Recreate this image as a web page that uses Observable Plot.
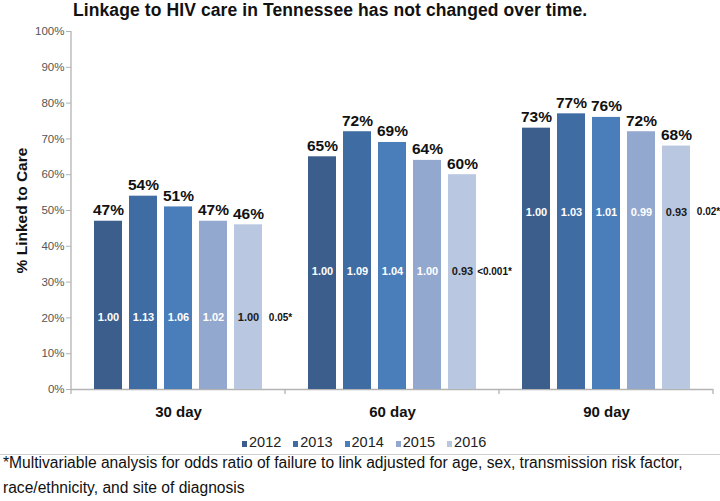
<!DOCTYPE html>
<html><head><meta charset="utf-8">
<script src="https://cdn.jsdelivr.net/npm/d3@7"></script>
<script src="https://cdn.jsdelivr.net/npm/@observablehq/plot@0.6"></script>
<style>
body{margin:0;background:#fff;font-family:"Liberation Sans",Arial,sans-serif;}
#wrap{position:relative;width:720px;height:501px;overflow:hidden;background:#fff;}
#chart{position:absolute;left:0;top:0;}
#title{position:absolute;left:73px;top:0;font-weight:bold;font-size:17.5px;line-height:20px;letter-spacing:0.1px;color:#111;white-space:nowrap;}
#legend{position:absolute;left:242px;top:433px;display:flex;font-size:14.5px;line-height:18px;color:#222;white-space:nowrap;}
#legend .item{display:flex;align-items:center;margin-right:12px;}
#legend .sw{width:5px;height:6px;margin-right:2px;margin-top:4px;}
#sep{position:absolute;left:0;top:454px;width:720px;height:0;border-top:1.5px solid #cfcfcf;}
#note{position:absolute;left:3px;top:450px;font-size:15.6px;line-height:25px;color:#111;white-space:nowrap;}
g[aria-label="y-axis label"] text{font-weight:bold;font-size:15.5px;fill:#111;}
</style>
</head><body>
<div id="wrap">
  <div id="chart"></div>
  <div id="title">Linkage to HIV care in Tennessee has not changed over time.</div>
  <div id="legend"></div>
  <div id="sep"></div>
  <div id="note">*Multivariable analysis for odds ratio of failure to link adjusted for age, sex, transmission risk factor,<br>race/ethnicity, and site of diagnosis</div>
</div>
<script>
const periods = ["30 day", "60 day", "90 day"];
const years = ["2012", "2013", "2014", "2015", "2016"];
const linked30 = [47, 54, 51, 47, 46];
const linked60 = [65, 72, 69, 64, 60];
const linked90 = [73, 77, 76, 72, 68];
const odds30 = ["1.00", "1.13", "1.06", "1.02", "1.00"];
const odds60 = ["1.00", "1.09", "1.04", "1.00", "0.93"];
const odds90 = ["1.00", "1.03", "1.01", "0.99", "0.93"];
const pValues = ["0.05*", "<0.001*", "0.02*"];
const oddsLevel = [20, 33, 49.5];
const yTicks = [0, 10, 20, 30, 40, 50, 60, 70, 80, 90, 100];
const colors = ["#3b5e8c", "#3f6ca3", "#4a7eba", "#93a8cf", "#b9c7e1"];

const linked = [linked30, linked60, linked90];
const odds = [odds30, odds60, odds90];
const rows = [];
periods.forEach((p, i) => years.forEach((yr, j) => rows.push({period: p, year: yr, linked: linked[i][j], odds: odds[i][j], level: oddsLevel[i]})));
const pRows = periods.map((p, i) => ({period: p, year: years[years.length - 1], p: pValues[i], level: oddsLevel[i]}));

const plot = Plot.plot({
  width: 720, height: 425,
  marginTop: 31, marginBottom: 36, marginLeft: 71, marginRight: 7,
  style: {fontFamily: "Liberation Sans, Arial, sans-serif", background: "transparent", overflow: "visible"},
  fx: {domain: periods, padding: 0, label: null},
  x: {domain: years, paddingInner: 0.19, paddingOuter: 0.6, axis: null},
  y: {domain: [0, 100], label: null},
  color: {domain: years, range: colors},
  marks: [
    Plot.ruleY([0], {stroke: "#b3b3b3", strokeWidth: 1.3}),
    Plot.barY(rows, {fx: "period", x: "year", y: "linked", fill: "year"}),
    Plot.text(rows, {fx: "period", x: "year", y: "linked", text: d => d.linked + "%", lineAnchor: "bottom", dy: -6, fontSize: 15.5, fontWeight: "bold", fill: "#111"}),
    Plot.text(rows.filter(d => d.year !== "2016"), {fx: "period", x: "year", y: "level", text: "odds", fill: "white", fontSize: 11, fontWeight: "bold"}),
    Plot.text(rows.filter(d => d.year === "2016"), {fx: "period", x: "year", y: "level", text: "odds", fill: "#1a1a1a", fontSize: 11, fontWeight: "bold"}),
    Plot.text(pRows, {fx: "period", x: "year", y: "level", text: "p", dx: 32, fontSize: 10, fontWeight: "bold", fill: "#111"}),
    Plot.axisY({ticks: yTicks, tickFormat: d => d + "%", tickSize: 5, tickPadding: 2, fontSize: 11.5, fill: "#555", stroke: "#b3b3b3", label: "% Linked to Care", labelArrow: "none", labelAnchor: "center", labelOffset: 56}),
    Plot.axisFx({anchor: "bottom", tickSize: 0, tickPadding: 17, fontSize: 15, fontWeight: "bold", fill: "#111", label: null})
  ]
});
document.getElementById("chart").appendChild(plot);

const svg = d3.select(plot);
// strip any label arrow
svg.selectAll('g[aria-label="y-axis label"] text').each(function() {
  this.textContent = this.textContent.replace(/\s*[↑→]\s*/g, "").trim();
});

// axis line and group-boundary ticks, positioned through the plot's scales
const ys = plot.scale("y");
const y0 = ys.apply(0), y100 = ys.apply(100);
let bounds;
try {
  const fxs = plot.scale("fx");
  bounds = fxs.domain.map(d => fxs.apply(d));
  bounds.push(bounds[bounds.length - 1] + fxs.bandwidth);
} catch (e) {
  const w = (720 - 71 - 7) / 3;
  bounds = [0, 1, 2, 3].map(i => 71 + i * w);
}
const g = svg.append("g").attr("stroke", "#b3b3b3").attr("stroke-width", 1.3);
g.append("line").attr("x1", bounds[0]).attr("x2", bounds[0]).attr("y1", y100).attr("y2", y0);
bounds.forEach(b => g.append("line").attr("x1", b).attr("x2", b).attr("y1", y0).attr("y2", y0 + 5));

// legend
const leg = d3.select("#legend");
years.forEach((yr, i) => {
  const it = leg.append("div").attr("class", "item");
  it.append("div").attr("class", "sw").style("background", colors[i]);
  it.append("span").text(yr);
});
</script>
</body></html>
